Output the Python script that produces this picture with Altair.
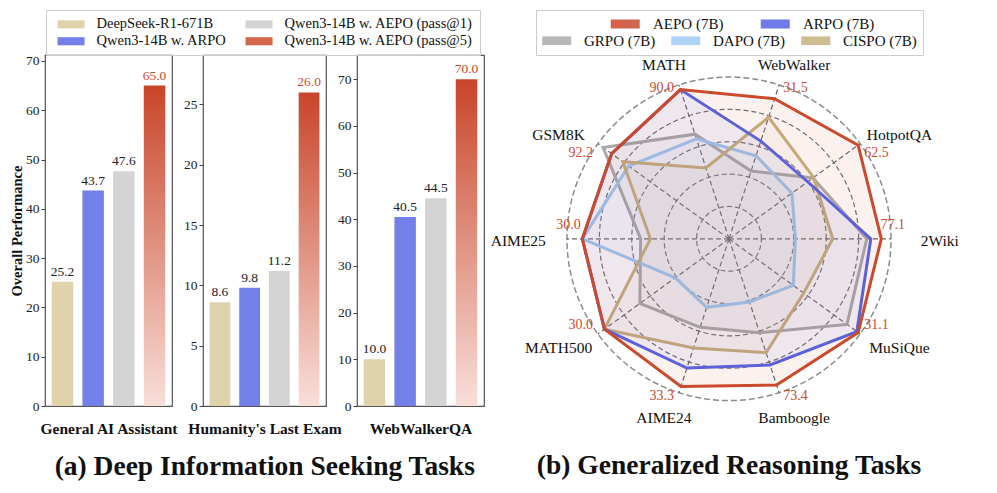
import altair as alt
import pandas as pd

FONT = "Liberation Serif"

# ---------------- (a) bar panels ----------------
tasks = ["General AI Assistant", "Humanity's Last Exam", "WebWalkerQA"]
models = ["DeepSeek-R1-671B", "Qwen3-14B w. ARPO",
          "Qwen3-14B w. AEPO (pass@1)", "Qwen3-14B w. AEPO (pass@5)"]
gaia = [25.2, 43.7, 47.6, 65.0]
hle = [8.6, 9.8, 11.2, 26.0]
webwalkerqa = [10.0, 40.5, 44.5, 70.0]
panel_values = [gaia, hle, webwalkerqa]
panel_ymax = [71.2, 29.1, 75.2]
panel_ticks = [[0, 10, 20, 30, 40, 50, 60, 70],
               [0, 5, 10, 15, 20, 25],
               [0, 10, 20, 30, 40, 50, 60, 70]]
bar_colors = ["#dfd3ac", "#7480ea", "#d4d4d4", "#d4664c"]

# ---------------- (b) radar ----------------
radar_axes = ["2Wiki", "HotpotQA", "WebWalker", "MATH", "GSM8K",
              "AIME25", "MATH500", "AIME24", "Bamboogle", "MuSiQue"]
aepo_labels = ["77.1", "62.5", "31.5", "90.0", "92.2",
               "30.0", "30.0", "33.3", "73.4", "31.1"]
series = ["AEPO (7B)", "ARPO (7B)", "GRPO (7B)", "DAPO (7B)", "CISPO (7B)"]
aepo_r = [0.94, 0.985, 0.91, 0.97, 0.895, 0.905, 0.95, 0.96, 0.95, 0.985]
arpo_r = [0.875, 0.60, 0.635, 0.97, 0.895, 0.905, 0.95, 0.84, 0.82, 0.975]
grpo_r = [0.85, 0.64, 0.44, 0.68, 0.96, 0.545, 0.68, 0.575, 0.61, 0.90]
dapo_r = [0.41, 0.48, 0.54, 0.65, 0.765, 0.905, 0.41, 0.445, 0.41, 0.49]
cispo_r = [0.64, 0.645, 0.79, 0.46, 0.81, 0.485, 0.95, 0.71, 0.74, 0.57]
line_colors = ["#cc4a2c", "#5563e6", "#aaaaaa", "#9fcaf5", "#c7b07c"]
ring_levels = [0.2, 0.4, 0.6, 0.8]
outer_level = [1.0]


def rect_path(x0, x1, h):
    return f"M{x0},{-h}H{x1}V{h}H{x0}Z"


# ---------- bars ----------
legend_order = models
legend_colors = bar_colors

bar_legend = alt.Legend(
    title=None, orient="none", legendX=1, legendY=-45, columns=2,
    symbolType=rect_path(-0.4, 3.6, 0.6), symbolSize=182.25,
    symbolStrokeWidth=0, labelOffset=29, labelFont=FONT, labelFontSize=14.5,
    labelColor="#111", labelLimit=400, strokeColor="#cccccc", padding=7, rowPadding=2,
    columnPadding=14, symbolOpacity=1,
)

gradient = alt.LinearGradient(
    gradient="linear",
    stops=[alt.GradientStop(color="#f8dfd9", offset=0),
           alt.GradientStop(color="#c8452a", offset=1)],
    x1=0, x2=0, y1=1, y2=0,
)

panel_widths = [127, 123, 127]


def make_panel(i):
    vals = panel_values[i]
    df = pd.DataFrame({
        "model": models,
        "value": vals,
        "label": [f"{v:.1f}" for v in vals],
        "best": [m == models[3] for m in models],
    })
    x = alt.X("model:N",
              scale=alt.Scale(domain=models, paddingInner=0.3, paddingOuter=0.22),
              axis=alt.Axis(labels=False, ticks=False, domain=False, title=tasks[i],
                            titlePadding=15, titleFontSize=15.5, titleFontWeight="bold",
                            titleColor="#111"))
    kw = dict(values=panel_ticks[i], grid=False, domain=False, tickSize=4,
              tickColor="#444", labelPadding=2, labelFontSize=13.5, labelColor="#222")
    if i == 0:
        yaxis = alt.Axis(title="Overall Performance", titlePadding=1, titleFontSize=14.5,
                         titleFontWeight="bold", titleColor="#111", **kw)
    else:
        yaxis = alt.Axis(title=None, **kw)
    y = alt.Y("value:Q", scale=alt.Scale(domain=[0, panel_ymax[i]], nice=False),
              axis=yaxis)
    base = alt.Chart(df)
    plain = base.transform_filter("!datum.best").mark_bar().encode(
        x=x, y=y,
        color=alt.Color("model:N",
                        scale=alt.Scale(domain=legend_order, range=legend_colors),
                        legend=bar_legend))
    best = base.transform_filter("datum.best").mark_bar(color=gradient).encode(x=x, y=y)
    t1 = base.transform_filter("!datum.best").mark_text(
        baseline="bottom", dy=-3, font=FONT, fontSize=13.5, color="#222"
    ).encode(x=x, y=y, text="label:N")
    t2 = base.transform_filter("datum.best").mark_text(
        baseline="bottom", dy=-3, font=FONT, fontSize=13.5, color="#cc4a2e"
    ).encode(x=x, y=y, text="label:N")
    return alt.layer(plain, best, t1, t2).properties(width=panel_widths[i], height=351)


bars = alt.hconcat(*[make_panel(i) for i in range(3)], spacing=31, bounds="flush")
bars = bars.resolve_scale(y="independent", color="shared").properties(
    title=alt.TitleParams("(a) Deep Information Seeking Tasks", orient="bottom",
                          anchor="middle", font=FONT, fontSize=27.5, fontWeight="bold",
                          color="#111", offset=16, dx=18))

# ---------- radar ----------
xs = alt.Scale(domain=[-1.45, 1.45], nice=False, zero=False)
ys = alt.Scale(domain=[-1.2, 1.136], nice=False, zero=False)
X = lambda f: alt.X(f, scale=xs, axis=None)
Y = lambda f: alt.Y(f, scale=ys, axis=None)

ring_df = pd.DataFrame([{"ring": lv, "deg": d} for lv in ring_levels for d in range(0, 360, 2)])
outer_df = pd.DataFrame([{"ring": lv, "deg": d} for lv in outer_level for d in range(0, 360, 2)])

circ_calc = dict(cx="datum.ring*cos(datum.deg*PI/180)", cy="datum.ring*sin(datum.deg*PI/180)")
rings = alt.Chart(ring_df).transform_calculate(**circ_calc).mark_line(
    interpolate="linear-closed", stroke="#707070", strokeWidth=1.2, strokeDash=[5, 3]
).encode(x=X("cx:Q"), y=Y("cy:Q"), detail="ring:N", order="deg:Q")
outer = alt.Chart(outer_df).transform_calculate(**circ_calc).mark_line(
    interpolate="linear-closed", stroke="#8c8c8c", strokeWidth=1.5, strokeDash=[6, 3]
).encode(x=X("cx:Q"), y=Y("cy:Q"), detail="ring:N", order="deg:Q")

ax_df = pd.DataFrame({"idx": list(range(10)), "name": radar_axes, "val": aepo_labels})
spokes = alt.Chart(ax_df).transform_calculate(
    o="0", ex="cos(datum.idx*PI/5)", ey="sin(datum.idx*PI/5)"
).mark_rule(stroke="#666666", strokeWidth=1.2, strokeDash=[5, 3]).encode(
    x=X("o:Q"), y=Y("o:Q"), x2="ex:Q", y2="ey:Q")

draw_order = ["GRPO (7B)", "DAPO (7B)", "CISPO (7B)", "ARPO (7B)", "AEPO (7B)"]
series_r = {"AEPO (7B)": aepo_r, "ARPO (7B)": arpo_r, "GRPO (7B)": grpo_r,
            "DAPO (7B)": dapo_r, "CISPO (7B)": cispo_r}
poly_df = pd.DataFrame([
    {"series": s, "idx": i, "r": series_r[s][i]}
    for s in draw_order for i in range(10)
])
fill_order = series[2:] + series[:2]
fill_colors = [line_colors[series.index(s)] for s in fill_order]

stroke_legend = alt.Legend(
    title=None, orient="none", legendX=112, legendY=-43, columns=2, values=series[:2],
    symbolType="M-1,0H3", symbolSize=210.25, symbolStrokeWidth=9, symbolOpacity=0.85,
    labelOffset=23, labelFont=FONT, labelFontSize=15, labelColor="#111",
    padding=0, columnPadding=18,
)
fill_legend = alt.Legend(
    title=" ", titleFontSize=14, titlePadding=3, orient="none", legendX=42, legendY=-45,
    columns=3, values=series[2:],
    symbolType=rect_path(-1, 3, 0.6), symbolSize=210.25, symbolStrokeWidth=0,
    symbolOpacity=0.85, labelOffset=27, labelFont=FONT, labelFontSize=15,
    labelColor="#111", strokeColor="#cccccc", padding=6, columnPadding=15,
)

polys = alt.Chart(poly_df).transform_calculate(
    px="datum.r*cos(datum.idx*PI/5)", py="datum.r*sin(datum.idx*PI/5)"
).mark_line(interpolate="linear-closed", strokeWidth=3, fillOpacity=0.07,
            strokeJoin="miter").encode(
    x=X("px:Q"), y=Y("py:Q"), order="idx:Q",
    stroke=alt.Stroke("series:N", scale=alt.Scale(domain=series, range=line_colors),
                      legend=stroke_legend),
    fill=alt.Fill("series:N", scale=alt.Scale(domain=fill_order, range=fill_colors),
                  legend=fill_legend),
)

cexp = "cos(datum.idx*PI/5)"
sexp = "sin(datum.idx*PI/5)"

names = alt.Chart(ax_df).transform_calculate(
    lx=f"1.3*{cexp}", ly=f"{sexp}*(1.08 + 0.07*abs({sexp})) - 0.015"
).mark_text(font=FONT, fontSize=15.5, color="#111").encode(
    x=X("lx:Q"), y=Y("ly:Q"), text="name:N")

vy_side = f"{sexp} - (abs({sexp}) < 0.9 ? 0.055*({sexp} > 0 ? 1 : -1) : 0.02)"
val_right = alt.Chart(ax_df).transform_filter(f"{cexp} > 0.2 && {cexp} < 0.99").transform_calculate(
    vx=f"{cexp} + 0.025", vy=vy_side
).mark_text(font=FONT, fontSize=14, color="#d04a2e", align="left").encode(
    x=X("vx:Q"), y=Y("vy:Q"), text="val:N")
val_left = alt.Chart(ax_df).transform_filter(f"{cexp} < -0.2 && {cexp} > -0.99").transform_calculate(
    vx=f"{cexp} - 0.03", vy=vy_side
).mark_text(font=FONT, fontSize=14, color="#d04a2e", align="right").encode(
    x=X("vx:Q"), y=Y("vy:Q"), text="val:N")
val_mid = alt.Chart(ax_df).transform_filter(f"abs({cexp}) >= 0.99").transform_calculate(
    vx=f"{cexp} + 0.01", vy="0.085"
).mark_text(font=FONT, fontSize=14, color="#d04a2e", align="center").encode(
    x=X("vx:Q"), y=Y("vy:Q"), text="val:N")

radar = alt.layer(rings, outer, spokes, polys, names, val_right, val_left, val_mid).properties(
    width=470, height=378,
    view=alt.ViewBackground(stroke="transparent"),
    title=alt.TitleParams("(b) Generalized Reasoning Tasks", orient="bottom",
                          anchor="middle", font=FONT, fontSize=27.5, fontWeight="bold",
                          color="#111", offset=19),
)

chart = alt.hconcat(bars, radar, spacing=5, bounds="full").resolve_scale(
    color="independent", stroke="independent", fill="independent"
).properties(padding=0).configure_view(stroke="#555555", strokeWidth=1.2).configure_axis(
    labelFont=FONT, titleFont=FONT
).configure_legend(labelFont=FONT, titleFont=FONT)

chart.save("out.html", embed_options={"renderer": "svg", "actions": False})
